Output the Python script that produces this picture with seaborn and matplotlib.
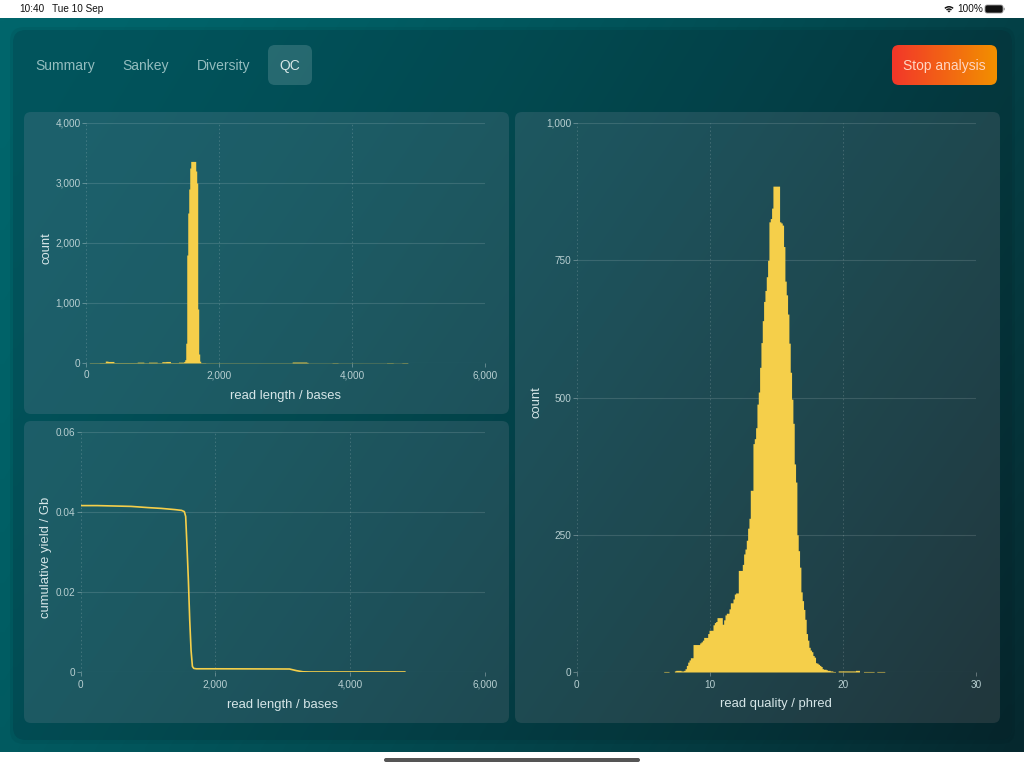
import numpy as np
import pandas as pd
import matplotlib
matplotlib.use("Agg")
import matplotlib.pyplot as plt
from matplotlib.patches import FancyBboxPatch, Wedge
import seaborn as sns

# ---- data ----
tab_labels = ["Summary", "Sankey", "Diversity", "QC"]
length_edges = [0, 50, 200, 290, 330, 420, 770, 870, 940, 1070, 1140, 1200, 1270, 1390, 1470, 1485,
                1500, 1515, 1530, 1545, 1560, 1575, 1650, 1665, 1680, 1695, 1710, 1725,
                1800, 2000, 2300, 2600, 3100, 3320, 3340, 3700, 3790, 4520, 4620, 4750, 4840]
length_counts = [0, 5, 7, 32, 26, 7, 14, 6, 14, 6, 22, 26, 7, 14, 26,
                 55, 330, 1800, 2500, 2900, 3250, 3360, 3200, 3000, 900, 150, 30, 6,
                 4, 4, 4, 4, 16, 10, 3, 6, 3, 6, 3, 6]
yield_length = [0, 250, 500, 750, 1000, 1200, 1400, 1500, 1540, 1560, 1580, 1600, 1620, 1640, 1660,
                1680, 1720, 2000, 2500, 3100, 3200, 3300, 3400, 4000, 4814]
yield_gb = [0.0416, 0.0416, 0.0415, 0.0414, 0.0411, 0.0409, 0.0406, 0.0404, 0.0401, 0.0389, 0.0313,
            0.0230, 0.0130, 0.0054, 0.0014, 0.0009, 0.0008, 0.0008, 0.00078, 0.00075, 0.00035,
            0.00005, 0.0, 0.0, 0.0]
quality_start = 6.55
quality_counts = [1, 1, 1, 1, 0, 0, 0, 0, 2, 3, 3, 3, 3, 2, 2,
                  3, 6, 12, 18, 22, 26, 26, 50, 50, 50, 50, 50, 53, 55, 58, 63, 63, 63, 70, 76, 76, 76,
                  86, 90, 92, 99, 99, 99, 99, 87, 95, 104, 107, 107, 115, 126, 126, 133, 142, 144, 144,
                  185, 185, 185, 196, 215, 224, 240, 262, 280, 331, 331, 416, 425, 445, 488, 510, 555,
                  600, 640, 675, 695, 720, 750, 820, 826, 845, 885, 885, 885, 885, 885, 820, 818, 814,
                  775, 712, 687, 652, 599, 546, 497, 453, 379, 346, 250, 221, 191, 146, 130, 114, 96,
                  70, 58, 45, 40, 37, 30, 27, 17, 16, 14, 12, 10, 6, 5, 5, 4, 3, 3, 2, 2, 1, 1, 0, 0,
                  2, 2, 2, 2, 2, 2, 2, 2, 2, 2, 2, 2, 2, 3, 3, 3, 0, 0, 0, 1, 1, 1, 1, 1, 1, 1, 1,
                  0, 0, 1, 1, 1, 1, 1, 1, 0, 0]

# ---- style ----
YELLOW = "#F5CF4A"
TICK = (0.72, 0.81, 0.82)
LABEL = (0.84, 0.90, 0.91)
FONT = ["Liberation Sans", "DejaVu Sans"]
sns.set_theme(style="white", rc={"axes.facecolor": "none", "figure.facecolor": "white"})
plt.rcParams["font.family"] = FONT

W, H = 1024, 768
fig = plt.figure(figsize=(W / 100, H / 100), dpi=100)
bg = fig.add_axes([0, 0, 1, 1], zorder=0)
bg.set_xlim(0, W); bg.set_ylim(H, 0); bg.axis("off")


def gradient(c0, c1, x0, y0, x1, y1, wx=0.7, wy=0.3, gamma=1.4):
    xs = np.linspace(0, 1, 128); ys = np.linspace(0, 1, 128)
    xx, yy = np.meshgrid(xs, ys)
    t = ((wx * xx + wy * yy) ** gamma)[..., None]
    img = np.clip(((1 - t) * np.array(c0) + t * np.array(c1)) / 255, 0, 1)
    return bg.imshow(img, extent=[x0, x1, y1, y0], aspect="auto", interpolation="bilinear")


def rounded(x0, y0, x1, y1, r, **kw):
    p = FancyBboxPatch((x0 + r, y0 + r), x1 - x0 - 2 * r, y1 - y0 - 2 * r,
                       boxstyle=f"round,pad={r},rounding_size={r}", **kw)
    bg.add_patch(p)
    return p


def panel(c0, c1, x0, y0, x1, y1, r, full=None, **kw):
    fx0, fy0, fx1, fy1 = full or (x0, y0, x1, y1)
    im = gradient(c0, c1, fx0, fy0, fx1, fy1, **kw)
    clip = rounded(x0, y0, x1, y1, r, fc="none", ec="none")
    im.set_clip_path(clip)


# outer background, inner panel
gradient((0, 102, 108), (6, 40, 46), 0, 18, W, 752)
rounded(10, 27, 1015, 744, 14, fc=(0, 0, 0, 0.05), ec="none")
panel((2, 90, 98), (7, 40, 46), 13, 30, 1012, 740, 13)
# cards
full = (24, 112, 1000, 723)
for box in [(24, 112, 509, 414), (24, 421, 509, 723), (515, 112, 1000, 723)]:
    panel((30, 103, 114), (35, 58, 64), *box, 7, full=full)
bg.set_xlim(0, W); bg.set_ylim(H, 0)

# status bar & home indicator
for tx, s in [(19, "10:40"), (52, "Tue 10 Sep"), (957, "100%")]:
    bg.text(tx, 9, s, fontsize=7.2, color="#111111", va="center", ha="left")
for r, w in [(6.5, 1.5), (4.2, 1.5)]:
    bg.add_patch(Wedge((949, 12.5), r, 225, 315, width=w, fc="#111111", ec="none"))
bg.add_patch(Wedge((949, 12.5), 2, 225, 315, fc="#111111", ec="none"))
rounded(985, 5, 1003, 13, 2.2, fc="#111111", ec="#999999", lw=0.6)
rounded(1003.5, 7.7, 1004.8, 10.3, 0.5, fc="#999999", ec="none")
rounded(384, 758, 640, 762, 2, fc="#555555", ec="none")

# tabs and button
rounded(268, 45, 312, 85, 7, fc=(1, 1, 1, 0.15), ec="none")
for lab, cx, col in zip(tab_labels, [65, 146, 224, 290],
                        [(0.58, 0.74, 0.75)] * 3 + [(0.84, 0.90, 0.90)]):
    bg.text(cx, 66.3, lab, color=col, fontsize=10, ha="center", va="center")
panel((255, 58, 44), (255, 152, 0), 892, 45, 997, 85, 7, wx=1, wy=0, gamma=1)
bg.set_xlim(0, W); bg.set_ylim(H, 0)
bg.text(944.5, 66.3, "Stop analysis", color=(1, 0.84, 0.76), fontsize=10, ha="center", va="center")


def make_axes(x0, x1, ytop, ybot):
    ax = fig.add_axes([x0 / W, 1 - ybot / H, (x1 - x0) / W, (ybot - ytop) / H], zorder=2)
    ax.patch.set_alpha(0)
    return ax


def finish(ax, xlim, ylim, xticks, yticks, xfmt, yfmt, xlabel, ylabel, xl, yl, box):
    x0, x1, ytop, ybot = box
    ax.set_xlim(*xlim); ax.set_ylim(*ylim)
    ax.set_xticks(xticks); ax.set_yticks(yticks)
    ax.set_xticklabels([xfmt(v) for v in xticks])
    ax.set_yticklabels([yfmt(v) for v in yticks])
    for s in ax.spines.values():
        s.set_visible(False)
    ax.set_axisbelow(True)
    ax.grid(True, axis="y", color="white", alpha=0.13, lw=0.8, ls="-")
    ax.grid(True, axis="x", color="white", alpha=0.17, lw=0.7, ls=(0, (1.5, 2.5)))
    ax.tick_params(axis="x", length=3, width=0.7, color=(1, 1, 1, 0.3),
                   labelcolor=TICK, labelsize=7.2, pad=2.4, bottom=True)
    ax.tick_params(axis="y", length=3, width=0.7, color=(1, 1, 1, 0.3),
                   labelcolor=TICK, labelsize=7.2, pad=0.8, left=True)
    ax.set_xlabel(xlabel, color=LABEL, fontsize=9.4)
    ax.set_ylabel(ylabel, color=LABEL, fontsize=9.4)
    ax.xaxis.set_label_coords((xl[0] - x0) / (x1 - x0), (ybot - xl[1]) / (ybot - ytop))
    ax.yaxis.set_label_coords((yl[0] - x0) / (x1 - x0), (ybot - yl[1]) / (ybot - ytop))
    ax.xaxis.label.set_va("center"); ax.yaxis.label.set_va("center")
    for coll in ax.collections:
        coll.set_snap(False)
    for patch in ax.patches:
        patch.set_snap(False)


comma = lambda v: "0" if v == 0 else f"{int(v):,}"
plain = lambda v: f"{v:g}"

# top-left histogram
box = (86, 485, 123, 363)
ax1 = make_axes(*box)
df1 = pd.DataFrame({"x": (np.array(length_edges[:-1]) + np.array(length_edges[1:])) / 2, "w": length_counts})
sns.histplot(df1, x="x", weights="w", bins=length_edges, element="step", fill=True,
             color=YELLOW, alpha=1, linewidth=0, ax=ax1)
finish(ax1, (0, 6000), (0, 4000), [0, 2000, 4000, 6000], [0, 1000, 2000, 3000, 4000], comma, comma,
       "read length / bases", "count", (285, 396), (46, 248), box)

# bottom-left line
box = (80.5, 485, 432, 672)
ax2 = make_axes(*box)
sns.lineplot(x=yield_length, y=yield_gb, color=YELLOW, lw=1.2, estimator=None, ax=ax2)
finish(ax2, (0, 6000), (0, 0.06), [0, 2000, 4000, 6000], [0, 0.02, 0.04, 0.06], comma, plain,
       "read length / bases", "cumulative yield / Gb", (282.5, 705), (46, 557), box)

# right histogram
box = (576.5, 976, 123, 672)
ax3 = make_axes(*box)
q_edges = quality_start + 0.1 * np.arange(len(quality_counts) + 1)
df3 = pd.DataFrame({"x": (q_edges[:-1] + q_edges[1:]) / 2, "w": quality_counts})
sns.histplot(df3, x="x", weights="w", bins=q_edges.tolist(), element="step", fill=True,
             color=YELLOW, alpha=1, linewidth=0, ax=ax3)
finish(ax3, (0, 30), (0, 1000), [0, 10, 20, 30], [0, 250, 500, 750, 1000], comma, comma,
       "read quality / phred", "count", (776, 704.5), (536.5, 402), box)

fig.savefig("out.png", dpi=100)
